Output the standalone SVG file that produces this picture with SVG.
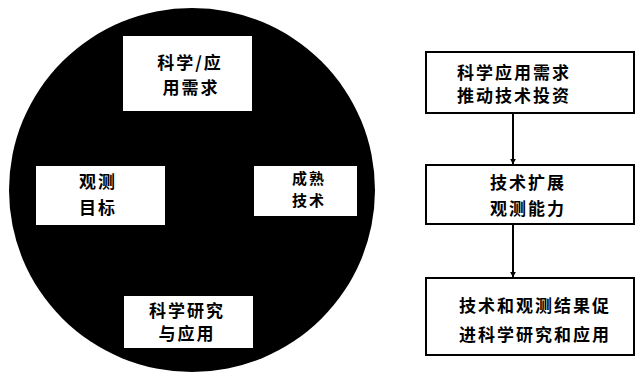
<svg xmlns="http://www.w3.org/2000/svg" width="635" height="372" viewBox="0 0 635 372">
<defs>
<style>
.t{font-family:"Noto Sans CJK SC","Noto Sans CJK TC",sans-serif;font-weight:bold;font-size:17px;fill:#000;letter-spacing:2px}
.s{font-size:15px;letter-spacing:2px}
.wb{fill:#fff;stroke:none}
.fb{fill:#fff;stroke:#000;stroke-width:2}
.c{stroke:#000;stroke-width:2;fill:none}
</style>
<marker id="ah" viewBox="0 0 10 10" refX="9" refY="5" markerWidth="6" markerHeight="6" orient="auto" markerUnits="userSpaceOnUse"><path d="M0,0 L10,5 L0,10 z" fill="#000"/></marker>
</defs>
<rect width="635" height="372" fill="#fff"/>
<g id="circle">
<ellipse cx="192" cy="190" rx="183" ry="182" fill="#000"/>
</g>
<g id="need">
<rect class="wb" x="123" y="36" width="129" height="75"/>
<text class="t" x="190" y="69" text-anchor="middle">科学/应</text>
<text class="t" x="191" y="94" text-anchor="middle">用需求</text>
</g>
<g id="target">
<rect class="wb" x="36" y="166" width="129" height="59"/>
<text class="t" x="98" y="188" text-anchor="middle">观测</text>
<text class="t" x="98" y="214" text-anchor="middle">目标</text>
</g>
<g id="tech">
<rect class="wb" x="254" y="166" width="103" height="50"/>
<text class="t s" x="309" y="184" text-anchor="middle">成熟</text>
<text class="t s" x="309" y="206" text-anchor="middle">技术</text>
</g>
<g id="research">
<rect class="wb" x="124" y="296" width="129" height="52"/>
<text class="t" x="187" y="317" text-anchor="middle">科学研究</text>
<text class="t" x="187" y="340" text-anchor="middle">与应用</text>
</g>
<g id="box1">
<rect class="fb" x="426" y="52" width="208" height="61"/>
<text class="t" x="457" y="79">科学应用需求</text>
<text class="t" x="457" y="102">推动技术投资</text>
</g>
<g id="box2">
<rect class="fb" x="426" y="165" width="208" height="59"/>
<text class="t" x="490" y="189">技术扩展</text>
<text class="t" x="490" y="215">观测能力</text>
</g>
<g id="box3">
<rect class="fb" x="426" y="278" width="208" height="77"/>
<text class="t" x="459" y="312">技术和观测结果促</text>
<text class="t" x="459" y="341">进科学研究和应用</text>
</g>
<g id="connectors">
<line class="c" x1="513" y1="113" x2="513" y2="164" marker-end="url(#ah)"/>
<line class="c" x1="513" y1="224" x2="513" y2="277" marker-end="url(#ah)"/>
</g>
</svg>
